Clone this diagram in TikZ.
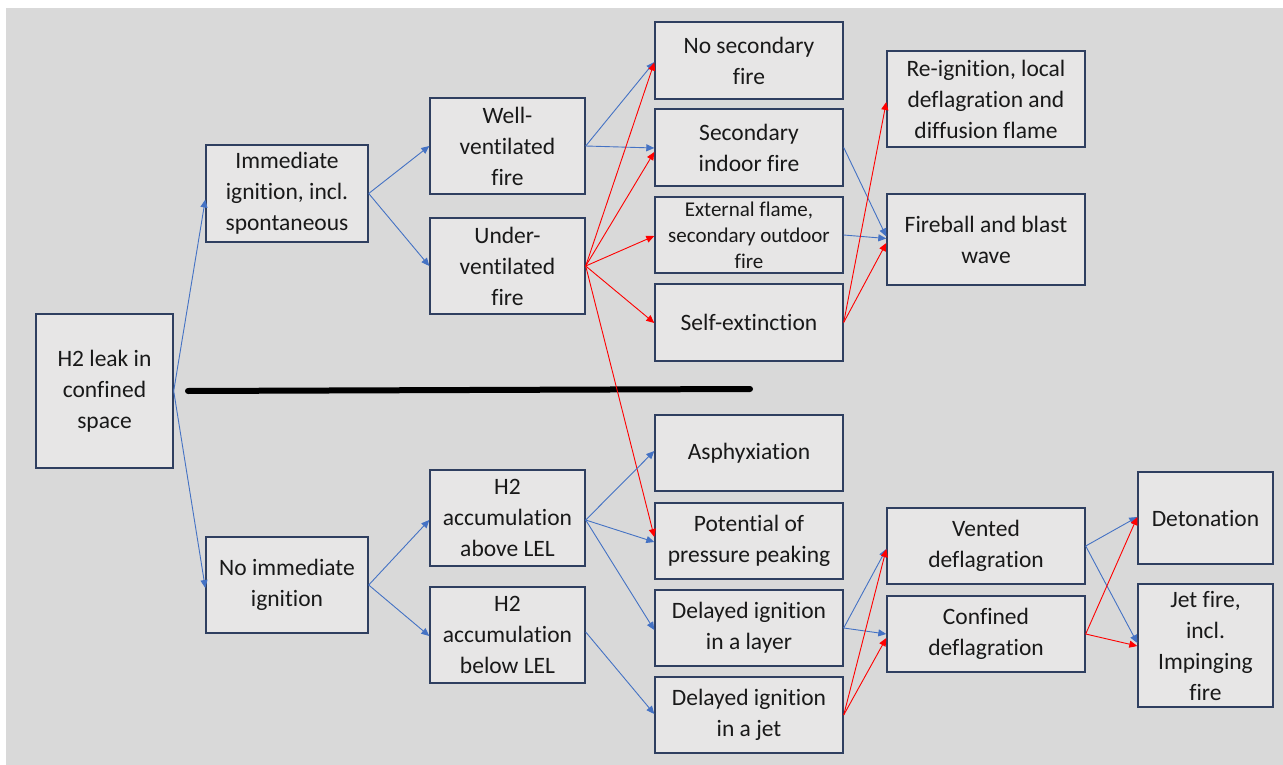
\documentclass[tikz,border=0pt]{standalone}
\usepackage{fontspec}
\setmainfont{Carlito}[Ligatures=NoCommon]
\usetikzlibrary{arrows.meta}
\definecolor{bg}{HTML}{D9D9D9}
\definecolor{boxfill}{HTML}{E7E6E6}
\definecolor{boxline}{HTML}{2F3F60}
\definecolor{ablue}{HTML}{4472C4}
\definecolor{ared}{HTML}{FF0000}
\tikzset{
  box/.style={draw=boxline, line width=1.4pt, fill=boxfill, align=center, inner sep=0pt,
    font=\fontsize{23.5}{31}\selectfont, text=black!90},
  smallbox/.style={box, font=\fontsize{21}{26}\selectfont},
  bl/.style={draw=ablue, line width=0.9pt, -{Triangle[length=8pt,width=7pt]}},
  rd/.style={draw=ared, line width=0.9pt, -{Triangle[length=8pt,width=7pt]}},
}
\begin{document}
\begin{tikzpicture}[x=1pt,y=-1pt]
\useasboundingbox (0,0) rectangle (1283,765);
\fill[white] (0,0) rectangle (1283,765);
\fill[bg] (6,8) rectangle (1283,765);

% nodes
\node[box, minimum width=137pt, minimum height=154pt] (leak) at (104.5,391) {H2 leak in\\confined\\space};
\node[box, minimum width=162pt, minimum height=97pt] (imm) at (287,193.5) {Immediate\\ignition, incl.\\spontaneous};
\node[box, minimum width=162pt, minimum height=96pt] (noimm) at (287,585) {No immediate\\ignition};
\node[box, minimum width=155pt, minimum height=96pt] (well) at (507.5,146) {Well-\\ventilated\\fire};
\node[box, minimum width=155pt, minimum height=96pt] (under) at (507.5,266) {Under-\\ventilated\\fire};
\node[box, minimum width=155pt, minimum height=96pt] (above) at (507.5,518) {H2\\accumulation\\above LEL};
\node[box, minimum width=155pt, minimum height=96pt] (below) at (507.5,635) {H2\\accumulation\\below LEL};
\node[box, minimum width=188pt, minimum height=77pt] (nosec) at (749,60.5) {No secondary\\fire};
\node[box, minimum width=188pt, minimum height=77pt] (secin) at (749,147.5) {Secondary\\indoor fire};
\node[smallbox, minimum width=188pt, minimum height=76pt] (ext) at (749,235) {External flame,\\secondary outdoor\\fire};
\node[box, minimum width=188pt, minimum height=77pt] (self) at (749,322.5) {Self-extinction};
\node[box, minimum width=188pt, minimum height=76pt] (asph) at (749,453) {Asphyxiation};
\node[box, minimum width=188pt, minimum height=76pt] (press) at (749,541) {Potential of\\pressure peaking};
\node[box, minimum width=188pt, minimum height=76pt] (layer) at (749,628) {Delayed ignition\\in a layer};
\node[box, minimum width=188pt, minimum height=76pt] (jet) at (749,715) {Delayed ignition\\in a jet};
\node[box, minimum width=198pt, minimum height=96pt] (reign) at (986,99) {Re-ignition, local\\deflagration and\\diffusion flame};
\node[box, minimum width=198pt, minimum height=91pt] (fire) at (986,239.5) {Fireball and blast\\wave};
\node[box, minimum width=198pt, minimum height=76pt] (vented) at (986,546) {Vented\\deflagration};
\node[box, minimum width=198pt, minimum height=76pt] (confined) at (986,634) {Confined\\deflagration};
\node[box, minimum width=135pt, minimum height=92pt] (deton) at (1205.5,518) {Detonation};
\node[box, minimum width=135pt, minimum height=123pt] (jetfire) at (1205.5,645.5) {Jet fire,\\incl.\\Impinging\\fire};

% thick separator
\coordinate (sepA) at (188,391);
\coordinate (sepB) at (750,389);
\draw[line width=6pt, line cap=round] (sepA) -- (sepB);

% connectors
\draw[bl] (leak.east) -- ([yshift=-6pt]imm.west);
\draw[bl] (leak.east) -- ([yshift=-3pt]noimm.west);
\draw[bl] (imm.east) -- (well.west);
\draw[bl] (imm.east) -- (under.west);
\draw[bl] (noimm.east) -- ([yshift=-2pt]above.west);
\draw[bl] (noimm.east) -- ([yshift=-1pt]below.west);

\draw[bl] (well.east) -- ([yshift=-1.5pt]nosec.west);
\draw[bl] (well.east) -- ([yshift=-0.5pt]secin.west);
\draw[rd] (under.east) -- ([yshift=-2pt]nosec.west);
\draw[rd] (under.east) -- ([yshift=-4.5pt]secin.west);
\draw[rd] (under.east) -- ([yshift=-1pt]ext.west);
\draw[rd] (under.east) -- ([yshift=-0.5pt]self.west);
\draw[rd] (under.east) -- ([yshift=4pt]press.west);

\draw[bl] (secin.east) -- ([yshift=3pt]fire.west);
\draw[bl] (ext.east) -- ([yshift=1pt]fire.west);
\draw[rd] (self.east) -- ([yshift=-3pt]reign.west);
\draw[rd] (self.east) -- ([yshift=-3.5pt]fire.west);

\draw[bl] ([yshift=-2pt]above.east) -- ([yshift=2pt]asph.west);
\draw[bl] ([yshift=-2pt]above.east) -- ([yshift=-1pt]press.west);
\draw[bl] ([yshift=-2pt]above.east) -- ([yshift=-2pt]layer.west);
\draw[bl] ([yshift=3pt]below.east) -- ([yshift=1pt]jet.west);

\draw[bl] (layer.east) -- ([yshift=-3pt]vented.west);
\draw[bl] (layer.east) -- (confined.west);
\draw[rd] (jet.east) -- ([yshift=-3pt]vented.west);
\draw[rd] (jet.east) -- ([yshift=-4pt]confined.west);

\draw[bl] (vented.east) -- ([yshift=1pt]deton.west);
\draw[bl] (vented.east) -- ([yshift=2.5pt]jetfire.west);
\draw[rd] (confined.east) -- ([yshift=1pt]deton.west);
\draw[rd] (confined.east) -- ([yshift=-0.5pt]jetfire.west);
\end{tikzpicture}
\end{document}
